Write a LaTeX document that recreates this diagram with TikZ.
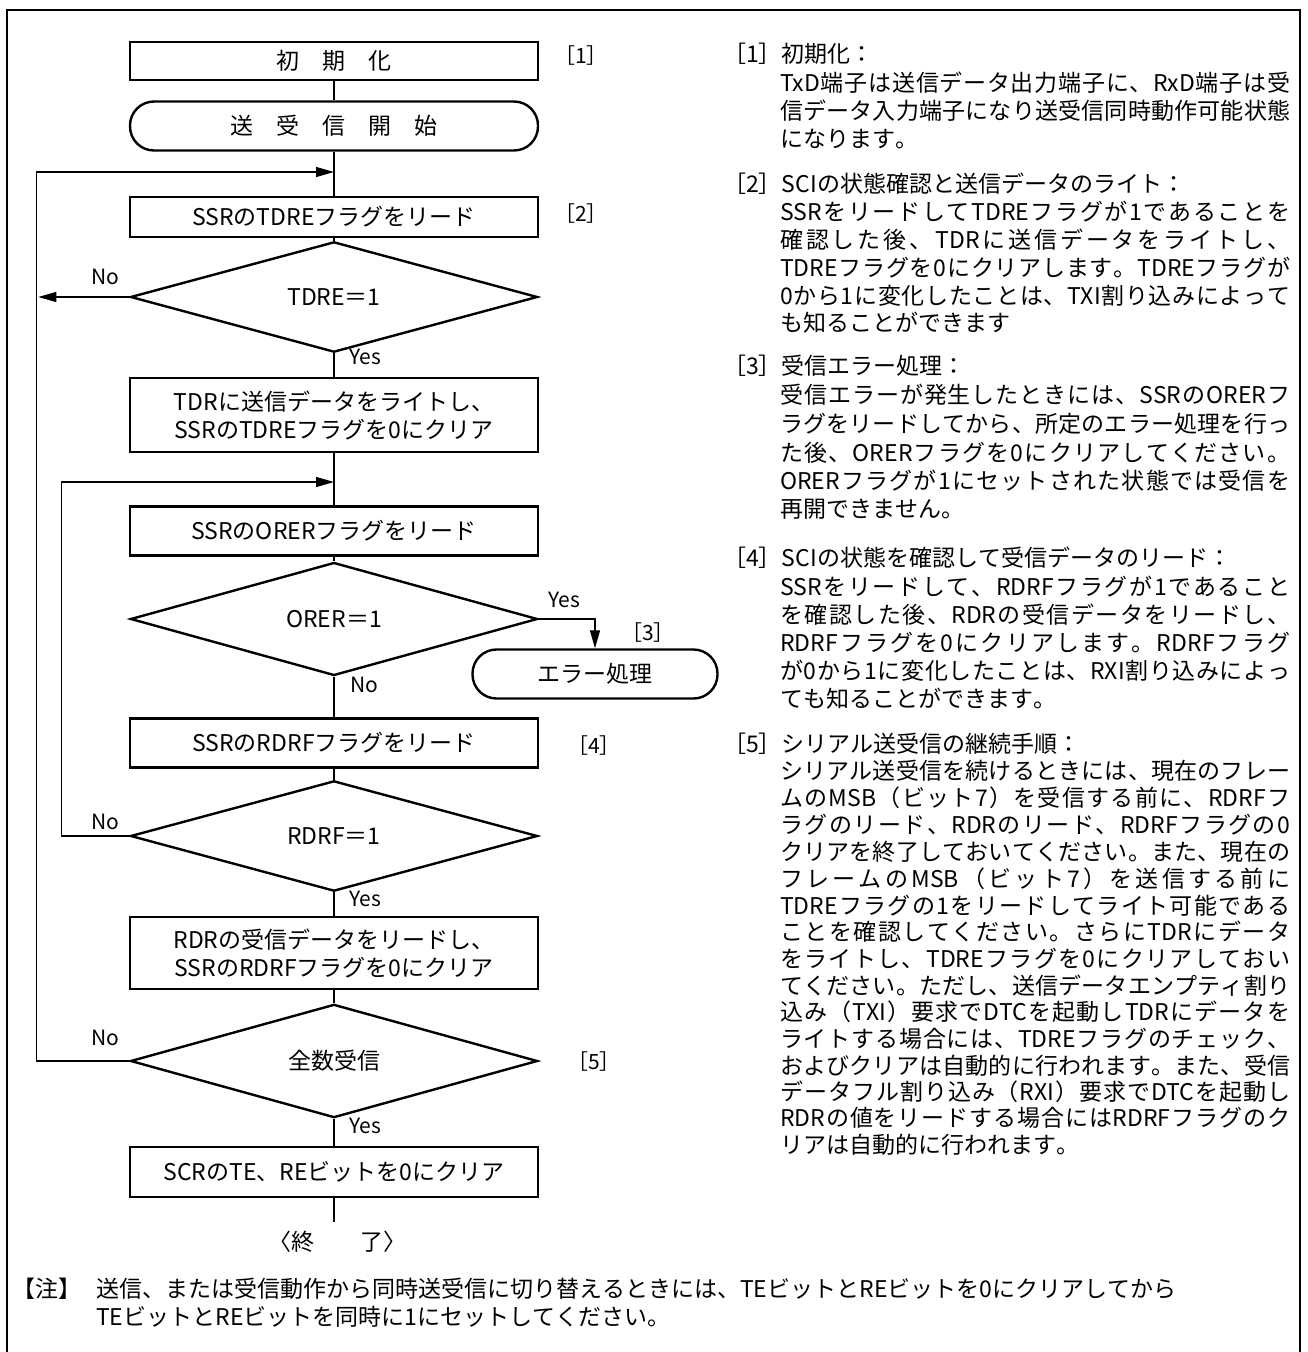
\documentclass[tikz,border=0pt]{standalone}
\usepackage{fontspec}
\setmainfont{Noto Sans CJK JP}
\usetikzlibrary{shapes.geometric,arrows.meta}
\newXeTeXintercharclass\jcls
\newcount\jcnt
\def\jrange#1#2{\jcnt=#1\relax\loop\XeTeXcharclass\jcnt=\jcls\relax\ifnum\jcnt<#2\advance\jcnt by 1\repeat}
\jrange{"3000}{"30FF}
\jrange{"4E00}{"9FFF}
\jrange{"FF00}{"FFEF}
\XeTeXinterchartoks\jcls\jcls={\hskip0pt plus 1pt minus 0.2pt}
\XeTeXinterchartoks\jcls 0={\hskip0pt plus 1pt minus 0.2pt}
\XeTeXinterchartoks 0\jcls={\hskip0pt plus 1pt minus 0.2pt}
\XeTeXinterchartokenstate=1
\newcommand\flowfont{\fontsize{23pt}{28pt}\selectfont}
\newcommand\lblfont{\fontsize{21pt}{25pt}\selectfont}
\newcommand\colfont{\fontsize{23pt}{28pt}\selectfont}
\newcommand\jl[3]{\node[jtxt] (#1) at (780,#2) {\hbox to 510pt{#3}};}
\newcommand\jlast[3]{\node[jtxt] (#1) at (780,#2) {#3};}
\newcommand\jhead[3]{\node[jtxt] (#1) at (723,#2) {#3};}
\begin{document}
\begin{tikzpicture}[x=1pt,y=-1pt,
  flowbox/.style={draw, line width=2.4pt, minimum width=408pt, inner sep=0pt, font=\flowfont, align=center},
  termbox/.style={flowbox, rounded corners=24pt},
  decision/.style={diamond, draw, line width=2.4pt, minimum width=407pt, minimum height=85pt, inner sep=0pt, font=\flowfont},
  conn/.style={line width=1.3pt},
  arr/.style={conn, -{Triangle[length=18pt,width=10pt]}},
  lbl/.style={font=\lblfont, inner sep=0pt},
  jtxt/.style={anchor=west, inner sep=0pt, font=\colfont},
  frame/.style={line width=2.4pt}]
\useasboundingbox (0,0) rectangle (1307,1352);
\draw[frame] (7,1356) -- (7,10) -- (1300,10) -- (1300,1356);

% flow
\node[flowbox, minimum height=38pt] (init) at (334,61) {初　期　化};
\node[termbox, minimum height=49pt] (start) at (334,126) {送　受　信　開　始};
\coordinate (A1) at (334,172);
\node[flowbox, minimum height=40pt] (rdTDRE) at (334,217) {SSRのTDREフラグをリード};
\node[decision] (dTDRE) at (334,297) {TDRE＝1};
\node[flowbox, minimum height=74pt] (wTDR) at (334,415) {TDRに送信データをライトし、\\SSRのTDREフラグを0にクリア};
\coordinate (A2) at (334,482);
\node[flowbox, minimum height=49pt] (rdORER) at (334,531) {SSRのORERフラグをリード};
\node[decision] (dORER) at (334,619) {ORER＝1};
\node[termbox, minimum width=245pt, minimum height=49pt] (err) at (595,674) {エラー処理};
\node[flowbox, minimum height=49pt] (rdRDRF) at (334,743) {SSRのRDRFフラグをリード};
\node[decision] (dRDRF) at (334,836) {RDRF＝1};
\node[flowbox, minimum height=72pt] (rRDR) at (334,953) {RDRの受信データをリードし、\\SSRのRDRFフラグを0にクリア};
\node[decision, minimum height=88pt] (dALL) at (334,1061) {全数受信};
\node[flowbox, minimum height=50pt] (clr) at (334,1172) {SCRのTE、REビットを0にクリア};
\coordinate (fin) at (334,1222);
\node[font=\flowfont, inner sep=0pt] (endt) at (337,1242) {〈終　　了〉};

% connectors
\draw[conn] (init) -- (start);
\draw[conn] (start) -- (rdTDRE);
\draw[conn] (rdTDRE) -- (dTDRE);
\draw[conn] (dTDRE) -- (wTDR);
\draw[conn] (wTDR) -- (rdORER);
\draw[conn] (rdORER) -- (dORER);
\draw[conn] (dORER) -- (rdRDRF);
\draw[conn] (rdRDRF) -- (dRDRF);
\draw[conn] (dRDRF) -- (rRDR);
\draw[conn] (rRDR) -- (dALL);
\draw[conn] (dALL) -- (clr);
\draw[conn] (clr) -- (fin);
\draw[arr] (dTDRE.west) -- ++(-91,0);
\draw[arr] (dALL.west) -- ++(-93,0) |- (A1);
\draw[arr] (dRDRF.west) -- ++(-68,0) |- (A2);
\draw[arr] (dORER.east) -| (err.north);

% labels
\node[lbl] (no1) at (105,277) {No};
\node[lbl] (yes1) at (365,357) {Yes};
\node[lbl] (yes2) at (564,600) {Yes};
\node[lbl] (no2) at (364,685) {No};
\node[lbl] (no3) at (105,822) {No};
\node[lbl] (yes3) at (365,899) {Yes};
\node[lbl] (no4) at (105,1038) {No};
\node[lbl] (yes4) at (365,1126) {Yes};
\node[lbl] (s1) at (581,56) {［1］};
\node[lbl] (s2) at (581,214) {［2］};
\node[lbl] (s3) at (648,633) {［3］};
\node[lbl] (s4) at (594,746) {［4］};
\node[lbl] (s5) at (594,1062) {［5］};

% right column
\jhead{h1}{54}{［1］初期化：}
\jl{a1}{83}{TxD端子は送信データ出力端子に、RxD端子は受}
\jl{a2}{111}{信データ入力端子になり送受信同時動作可能状態}
\jlast{a3}{139}{になります。}
\jhead{h2}{184}{［2］SCIの状態確認と送信データのライト：}
\jl{b1}{212}{SSRをリードしてTDREフラグが1であることを}
\jl{b2}{240}{確認した後、TDRに送信データをライトし、}
\jl{b3}{268}{TDREフラグを0にクリアします。TDREフラグが}
\jl{b4}{296}{0から1に変化したことは、TXI割り込みによって}
\jlast{b5}{323}{も知ることができます}
\jhead{h3}{366}{［3］受信エラー処理：}
\jl{c1}{395}{受信エラーが発生したときには、SSRのORERフ}
\jl{c2}{424}{ラグをリードしてから、所定のエラー処理を行っ}
\jl{c3}{453}{た後、ORERフラグを0にクリアしてください。}
\jl{c4}{481}{ORERフラグが1にセットされた状態では受信を}
\jlast{c5}{509}{再開できません。}
\jhead{h4}{558}{［4］SCIの状態を確認して受信データのリード：}
\jl{d1}{587}{SSRをリードして、RDRFフラグが1であること}
\jl{d2}{615}{を確認した後、RDRの受信データをリードし、}
\jl{d3}{643}{RDRFフラグを0にクリアします。RDRFフラグ}
\jl{d4}{671}{が0から1に変化したことは、RXI割り込みによっ}
\jlast{d5}{699}{ても知ることができます。}
\jhead{h5}{744}{［5］シリアル送受信の継続手順：}
\jl{e1}{771}{シリアル送受信を続けるときには、現在のフレー}
\jl{e2}{798}{ムのMSB（ビット7）を受信する前に、RDRFフ}
\jl{e3}{825}{ラグのリード、RDRのリード、RDRFフラグの0}
\jl{e4}{852}{クリアを終了しておいてください。また、現在の}
\jl{e5}{879}{フレームのMSB（ビット7）を送信する前に}
\jl{e6}{906}{TDREフラグの1をリードしてライト可能である}
\jl{e7}{932}{ことを確認してください。さらにTDRにデータ}
\jl{e8}{959}{をライトし、TDREフラグを0にクリアしておい}
\jl{e9}{986}{てください。ただし、送信データエンプティ割り}
\jl{e10}{1012}{込み（TXI）要求でDTCを起動しTDRにデータを}
\jl{e11}{1039}{ライトする場合には、TDREフラグのチェック、}
\jl{e12}{1066}{およびクリアは自動的に行われます。また、受信}
\jl{e13}{1092}{データフル割り込み（RXI）要求でDTCを起動し}
\jl{e14}{1118}{RDRの値をリードする場合にはRDRFフラグのク}
\jlast{e15}{1145}{リアは自動的に行われます。}

% note
\node[jtxt] (nt) at (12,1289) {【注】};
\node[jtxt] (n1) at (96,1289) {送信、または受信動作から同時送受信に切り替えるときには、TEビットとREビットを0にクリアしてから};
\node[jtxt] (n2) at (96,1317) {TEビットとREビットを同時に1にセットしてください。};
\end{tikzpicture}
\end{document}
